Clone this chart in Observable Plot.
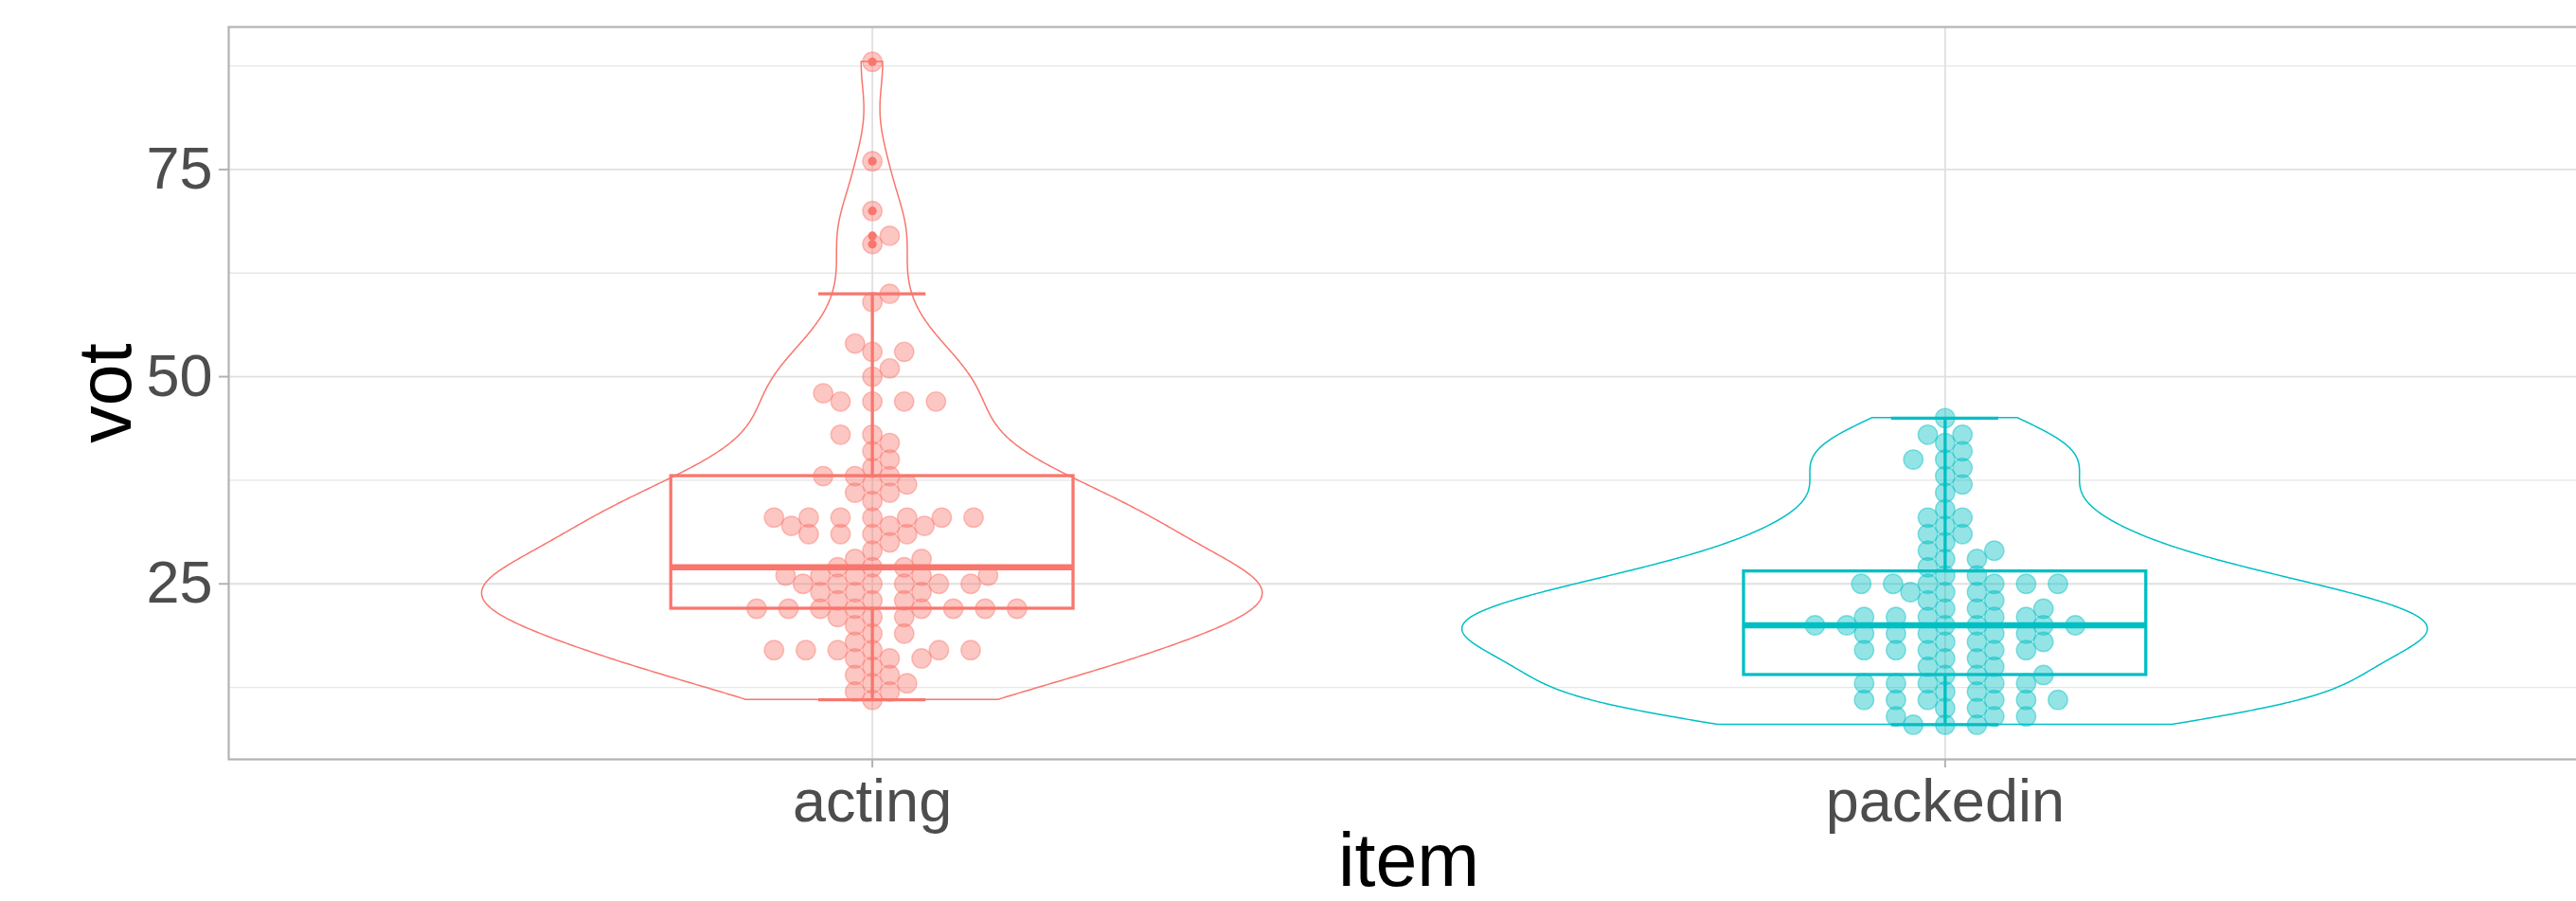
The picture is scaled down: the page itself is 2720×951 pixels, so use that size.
<!DOCTYPE html>
<html>
<head>
<meta charset="utf-8">
<script src="https://cdn.jsdelivr.net/npm/d3@7"></script>
<script src="https://cdn.jsdelivr.net/npm/@observablehq/plot@0.6"></script>
<style>
  html, body { margin: 0; padding: 0; background: #fff; overflow: hidden; }
  #chart { width: 2720px; height: 951px; overflow: hidden; }
</style>
</head>
<body>
<div id="chart"></div>
<script>
// ---- data ----
const categories = ["acting", "packedin"];
const colors = ["#F8766D", "#00BFC4"];
const actingVotes = [
  88, 76, 70, 67, 66, 60, 59, 54, 53, 53, 51, 50, 48, 47, 47, 47, 47, 43, 43, 42, 41, 40, 39,
  38, 38, 38, 37, 37, 36, 36, 35, 33, 33, 33, 33, 33, 33, 33, 32, 32, 32, 31, 31, 31, 31, 30, 29, 28, 28,
  27, 27, 27, 26, 26, 26, 26, 26, 25, 25, 25, 25, 25, 25, 24, 24, 24, 23, 23, 23,
  22, 22, 22, 22, 22, 22, 22, 22, 21, 21, 21, 20, 19, 19, 18,
  17, 17, 17, 17, 17, 17, 16, 16, 16, 15, 14, 14, 13, 13, 12, 12, 11
];
const packedinVotes = [
  45, 43, 43, 42, 41, 40, 40, 39, 38, 37, 36, 34, 33, 33, 32, 31, 31, 30, 29, 29, 28, 28, 27,
  26, 26, 25, 25, 25, 25, 25, 25, 24, 24, 24, 23, 23, 22, 22, 22, 21, 21, 21, 21, 21,
  20, 20, 20, 20, 20, 20, 19, 19, 19, 19, 19, 18, 18, 18, 17, 17, 17, 17, 17, 16, 16, 15, 15,
  14, 14, 14, 13, 13, 13, 13, 13, 12, 12, 11, 11, 11, 11, 11, 11, 10, 10, 9, 9, 9, 8, 8, 8
];
const yTicks = [25, 50, 75];
const yMinor = [12.5, 37.5, 62.5, 87.5];
const xTicks = [1, 2];

// ---- statistics (computed from the data) ----
const groups = [actingVotes, packedinVotes];
const PX_PER_X = 2492 / 2.2;          // pixels per x unit on the panel
const SWARM_DY = 1.193;               // value units per swarm collision distance
const SWARM_GX = 33.6 / PX_PER_X;     // x units per swarm collision distance

function swarm(values) {
  const pts = values.map((v, i) => ({v: v / SWARM_DY, i, o: 0}));
  const order = d3.range(pts.length).sort((a, b) => pts[a].v - pts[b].v || a - b);
  const placed = [];
  for (const idx of order) {
    const p = pts[idx];
    const near = placed.filter(q => p.v - q.v < 1);
    if (near.length) {
      near.sort((a, b) => Math.abs(a.o) - Math.abs(b.o));
      const offs = near.map(q => Math.sqrt(1 - (p.v - q.v) ** 2));
      const cand = [0, ...near.map((q, k) => q.o + offs[k]), ...near.map((q, k) => q.o - offs[k])];
      let best = 0, bestAbs = Infinity;
      for (const c of cand) {
        const bad = near.some(q => (p.v - q.v) ** 2 + (c - q.o) ** 2 < 0.999);
        if (!bad && Math.abs(c) < bestAbs) { bestAbs = Math.abs(c); best = c; }
      }
      p.o = best;
    }
    placed.push(p);
  }
  return pts.map(p => p.o);
}

function boxStats(vals, g) {
  const s = vals.slice().sort(d3.ascending);
  const q1 = d3.quantileSorted(s, 0.25), med = d3.quantileSorted(s, 0.5), q3 = d3.quantileSorted(s, 0.75);
  const iqr = q3 - q1;
  const lo = d3.min(s.filter(v => v >= q1 - 1.5 * iqr));
  const hi = d3.max(s.filter(v => v <= q3 + 1.5 * iqr));
  const out = s.filter(v => v < lo || v > hi);
  return {g, c: g + 1, q1, med, q3, lo, hi, out};
}

function kde(vals) {
  const n = vals.length;
  const sd = d3.deviation(vals);
  const s = vals.slice().sort(d3.ascending);
  const iqr = d3.quantileSorted(s, 0.75) - d3.quantileSorted(s, 0.25);
  const bw = 0.9 * Math.min(sd, iqr / 1.34) * Math.pow(n, -0.2);
  const lo = s[0], hi = s[n - 1];
  const pts = [];
  for (let k = 0; k < 512; k++) {
    const y = lo + (hi - lo) * k / 511;
    let d = 0;
    for (const v of vals) { const z = (y - v) / bw; d += Math.exp(-0.5 * z * z); }
    pts.push({y, d: d / (n * bw * Math.sqrt(2 * Math.PI))});
  }
  return pts;
}

const stats = groups.map((vals, g) => boxStats(vals, g));
const dens = groups.map(kde);
const maxD = d3.max(dens.flat(), d => d.d);
const violins = dens.map((pts, g) => pts.map(p => ({g, y: p.y, x1: g + 1 - 0.45 * p.d / maxD, x2: g + 1 + 0.45 * p.d / maxD})));
const dots = groups.map((vals, g) => {
  const offs = swarm(vals);
  return vals.map((v, i) => ({g, v, x: g + 1 + offs[i] * SWARM_GX}));
});
const outliers = stats.map(st => st.out.map(v => ({g: st.g, x: st.c, v})));

const BOX_HALF = 0.1875, CAP_HALF = 0.05;
const marks = [
  Plot.ruleY(yMinor, {stroke: "#E6E6E6", strokeWidth: 1.3}),
  Plot.ruleY(yTicks, {stroke: "#E0E0E0", strokeWidth: 1.8}),
  Plot.ruleX(xTicks, {stroke: "#E0E0E0", strokeWidth: 1.8}),
  Plot.frame({stroke: "#B3B3B3", strokeWidth: 2.2}),
  Plot.axisY({ticks: yTicks, tickSize: 10, tickPadding: 7, fontSize: 63, fill: "#4D4D4D", stroke: "#B3B3B3", strokeWidth: 2, label: null}),
  Plot.axisX({ticks: xTicks, tickFormat: i => categories[i - 1], tickSize: 9, tickPadding: 12, fontSize: 63, fill: "#4D4D4D", stroke: "#B3B3B3", strokeWidth: 2, label: null}),
  Plot.text(["vot"], {frameAnchor: "left", rotate: -90, dx: -104, fontSize: 79, fill: "#000", lineAnchor: "bottom", textAnchor: "middle"}),
  Plot.text(["item"], {frameAnchor: "bottom", dy: 133, fontSize: 79, fill: "#000", lineAnchor: "bottom", textAnchor: "middle"})
];
for (let g = 0; g < 2; g++) {
  const col = colors[g];
  const st = [stats[g]];
  marks.push(
    Plot.areaX(violins[g], {y: "y", x1: "x1", x2: "x2", fill: "none", stroke: col, strokeWidth: 1.5}),
    Plot.dot(dots[g], {x: "x", y: "v", r: 10.2, fill: col, fillOpacity: 0.42, stroke: col, strokeOpacity: 0.45, strokeWidth: 1.4}),
    Plot.ruleX(st, {x: "c", y1: "q3", y2: "hi", stroke: col, strokeWidth: 3.3}),
    Plot.ruleX(st, {x: "c", y1: "lo", y2: "q1", stroke: col, strokeWidth: 3.3}),
    Plot.ruleY(st, {y: "hi", x1: d => d.c - CAP_HALF, x2: d => d.c + CAP_HALF, stroke: col, strokeWidth: 3.3}),
    Plot.ruleY(st, {y: "lo", x1: d => d.c - CAP_HALF, x2: d => d.c + CAP_HALF, stroke: col, strokeWidth: 3.3}),
    Plot.rect(st, {x1: d => d.c - BOX_HALF, x2: d => d.c + BOX_HALF, y1: "q1", y2: "q3", fill: "none", stroke: col, strokeWidth: 3.3}),
    Plot.ruleY(st, {y: "med", x1: d => d.c - BOX_HALF, x2: d => d.c + BOX_HALF, stroke: col, strokeWidth: 6.6}),
    Plot.dot(outliers[g], {x: "x", y: "v", r: 4.6, fill: col, stroke: "none"})
  );
}

const chart = Plot.plot({
  width: 2720, height: 951,
  marginLeft: 241, marginRight: -13, marginTop: 28, marginBottom: 150,
  x: {domain: [0.4, 2.6]},
  y: {domain: [3.82, 92.2]},
  style: {fontFamily: "'Liberation Sans', Arial, sans-serif", background: "#fff", overflow: "hidden"},
  marks
});
document.getElementById("chart").appendChild(chart);
</script>
</body>
</html>
